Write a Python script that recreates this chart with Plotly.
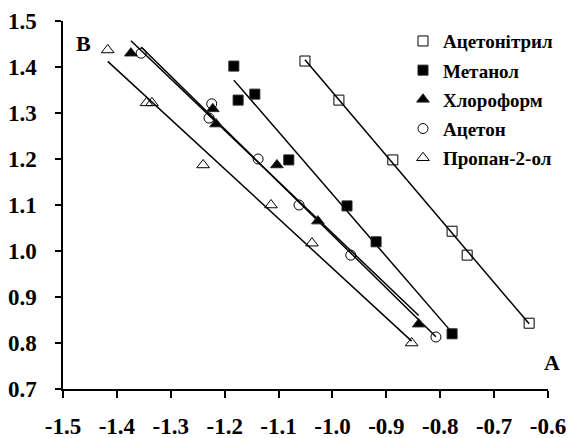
import numpy as np
import plotly.graph_objects as go

# ---- data ----
names = ["Ацетонітрил", "Метанол", "Хлороформ", "Ацетон", "Пропан-2-ол"]

acn_x = [-1.051, -0.988, -0.888, -0.778, -0.750, -0.635]
acn_y = [1.413, 1.328, 1.198, 1.043, 0.991, 0.843]

meoh_x = [-1.183, -1.175, -1.144, -1.081, -0.973, -0.919, -0.778]
meoh_y = [1.402, 1.328, 1.341, 1.198, 1.098, 1.020, 0.820]

chl_x = [-1.374, -1.222, -1.216, -1.103, -1.027, -0.840]
chl_y = [1.430, 1.309, 1.276, 1.187, 1.065, 0.841]

ace_x = [-1.355, -1.224, -1.229, -1.138, -1.062, -0.966, -0.808]
ace_y = [1.430, 1.320, 1.289, 1.200, 1.100, 0.991, 0.813]

prop_x = [-1.417, -1.345, -1.335, -1.240, -1.114, -1.038, -0.853]
prop_y = [1.437, 1.322, 1.322, 1.187, 1.100, 1.017, 0.800]

x_ticks = [-1.5, -1.4, -1.3, -1.2, -1.1, -1.0, -0.9, -0.8, -0.7, -0.6]
y_ticks = [0.7, 0.8, 0.9, 1.0, 1.1, 1.2, 1.3, 1.4, 1.5]

series = [
    (names[0], acn_x, acn_y, "square-open", 10),
    (names[1], meoh_x, meoh_y, "square", 10),
    (names[2], chl_x, chl_y, "triangle-up", 11),
    (names[3], ace_x, ace_y, "circle-open", 10),
    (names[4], prop_x, prop_y, "triangle-up-open", 11),
]

fig = go.Figure()

# regression lines (computed from the data)
for name, xs, ys, sym, sz in series:
    xa = np.array(xs)
    ya = np.array(ys)
    k, b = np.polyfit(xa, ya, 1)
    xl = np.array([xa.min(), xa.max()])
    fig.add_trace(go.Scatter(x=xl, y=k * xl + b, mode="lines",
                             line=dict(color="black", width=1.5),
                             showlegend=False, hoverinfo="skip"))

for i, (name, xs, ys, sym, sz) in enumerate(series):
    fig.add_trace(go.Scatter(x=xs, y=ys, mode="markers", name="<b>%s</b>" % name,
                             legendgroup="g%d" % i,
                             marker=dict(symbol=sym, size=sz, color="black",
                                         line=dict(color="#222222", width=1))))

font_family = "Liberation Serif"

fig.update_layout(
    width=569, height=438,
    margin=dict(l=63, r=21, t=21, b=49, autoexpand=False),
    paper_bgcolor="white", plot_bgcolor="white",
    font=dict(family=font_family, color="black"),
    showlegend=True,
    legend=dict(x=0.701, y=0.997, xanchor="left", yanchor="top",
                tracegroupgap=1.5,
                font=dict(family=font_family, size=19, color="black"),
                bgcolor="rgba(0,0,0,0)", borderwidth=0),
    annotations=[
        dict(text="<b>B</b>", x=0.043, y=0.94, xref="paper", yref="paper",
             xanchor="center", yanchor="middle",
             showarrow=False, font=dict(family=font_family, size=22)),
        dict(text="<b>A</b>", x=1.008, y=0.073, xref="paper", yref="paper",
             xanchor="center", yanchor="middle",
             showarrow=False, font=dict(family=font_family, size=22)),
    ],
)

fig.update_xaxes(range=[-1.5, -0.6], tickvals=x_ticks,
                 ticktext=["<b>%.1f</b>" % v for v in x_ticks],
                 showgrid=False, zeroline=False, showline=True, linecolor="black",
                 linewidth=1.5, ticks="outside", ticklen=7, tickwidth=1.5,
                 tickcolor="black", ticklabelstandoff=9, automargin=False,
                 tickfont=dict(family=font_family, size=23, color="black"))
fig.update_yaxes(range=[0.7, 1.5], tickvals=y_ticks,
                 ticktext=["<b>%.1f</b>" % v for v in y_ticks],
                 showgrid=False, zeroline=False, showline=True, linecolor="black",
                 linewidth=1.5, ticks="outside", ticklen=6, tickwidth=1.5,
                 tickcolor="black", ticklabelstandoff=14, automargin=False,
                 tickfont=dict(family=font_family, size=23, color="black"))

fig.write_html("out.html", config={"displayModeBar": False},
               post_script="document.body.style.margin='0';")
